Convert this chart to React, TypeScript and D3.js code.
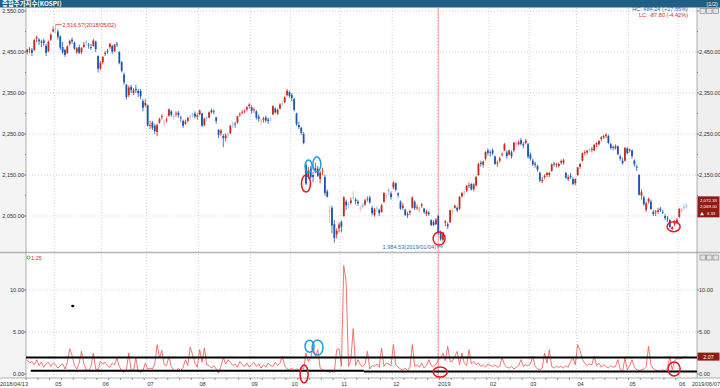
import React from 'react';
import * as d3 from 'd3';

// 일봉 OHLC (2018/04/13 ~ 2019/06/07)
const opens = [
  2450, 2456, 2455, 2455, 2483, 2480, 2475, 2478, 2465, 2452, 2480, 2500,
  2508, 2500, 2488, 2462, 2455, 2448, 2470, 2480, 2472, 2450, 2462, 2450, 2462, 2475, 2468, 2462, 2465, 2475, 2440, 2410,
  2425, 2445, 2450, 2462, 2465, 2452, 2470, 2450, 2425, 2395, 2370, 2345, 2365, 2350, 2360, 2355, 2355, 2330, 2320,
  2320, 2270, 2278, 2270, 2255, 2278, 2292, 2278, 2285, 2295, 2305, 2292, 2298, 2302, 2290, 2282, 2275, 2282, 2292, 2298, 2300, 2292,
  2298, 2300, 2272, 2290, 2290, 2308, 2305, 2290, 2260, 2252, 2245, 2240, 2250, 2252, 2275, 2275, 2278, 2298, 2302, 2305, 2310, 2318,
  2315, 2308, 2305, 2292, 2280, 2285, 2290, 2285, 2288, 2298, 2312, 2300, 2312, 2325, 2328, 2345, 2352,
  2345, 2335, 2300, 2272, 2265, 2250, 2175, 2145, 2165, 2150, 2160, 2165, 2140, 2160, 2145, 2110, 2060, 2070, 2030, 2005, 2020,
  2035, 2050, 2085, 2080, 2082, 2095, 2090, 2085, 2068, 2078, 2078, 2092, 2095, 2070, 2052, 2070, 2065, 2060, 2085, 2100, 2115, 2105,
  2120, 2130, 2105, 2085, 2070, 2065, 2055, 2058, 2070, 2085, 2070, 2062, 2075, 2068, 2055, 2058, 2040, 2035, 2030,
  2050, 2010, 1992, 2034, 2030, 2035, 2060, 2070, 2070, 2068, 2098, 2110, 2112, 2125, 2128, 2115, 2125, 2150, 2180, 2175, 2190, 2210,
  2205, 2210, 2195, 2178, 2185, 2200, 2210, 2205, 2200, 2205, 2210, 2225, 2225, 2235, 2225, 2228, 2225,
  2200, 2185, 2178, 2172, 2155, 2135, 2145, 2150, 2150, 2160, 2178, 2175, 2172, 2180, 2180, 2155, 2140, 2148, 2140, 2130,
  2150, 2170, 2185, 2205, 2205, 2212, 2212, 2210, 2225, 2225, 2238, 2242, 2245, 2245, 2225, 2218, 2215, 2220, 2195, 2185, 2185, 2215,
  2210, 2210, 2185, 2170, 2150, 2100, 2095, 2065, 2085, 2085, 2060, 2060, 2060, 2068, 2060, 2050, 2045, 2040, 2018, 2030, 2035,
  2048, 2062, 2072, 2075,
];
const highs = [
  2458, 2462, 2460, 2482, 2490, 2484, 2480, 2482, 2470, 2478, 2496, 2512,
  2516.57, 2505, 2490, 2475, 2458, 2466, 2480, 2485, 2476, 2462, 2468, 2462, 2475, 2480, 2472, 2470, 2482, 2478, 2442, 2428,
  2440, 2452, 2458, 2472, 2468, 2470, 2475, 2452, 2428, 2400, 2372, 2368, 2370, 2362, 2370, 2360, 2360, 2335, 2335,
  2322, 2282, 2282, 2275, 2275, 2290, 2298, 2285, 2290, 2312, 2308, 2298, 2305, 2306, 2295, 2285, 2285, 2292, 2298, 2302, 2305, 2300,
  2310, 2302, 2290, 2295, 2305, 2312, 2310, 2292, 2262, 2262, 2250, 2252, 2255, 2272, 2280, 2280, 2295, 2303, 2308, 2310, 2318, 2325,
  2320, 2315, 2308, 2298, 2288, 2292, 2295, 2290, 2292, 2320, 2315, 2312, 2325, 2330, 2342, 2360, 2356,
  2350, 2338, 2302, 2280, 2268, 2255, 2178, 2170, 2172, 2158, 2180, 2172, 2160, 2168, 2150, 2115, 2075, 2075, 2040, 2020, 2035,
  2040, 2098, 2090, 2085, 2095, 2110, 2095, 2090, 2075, 2082, 2092, 2098, 2100, 2075, 2070, 2075, 2068, 2080, 2108, 2105, 2118, 2110,
  2135, 2132, 2108, 2088, 2082, 2068, 2060, 2065, 2098, 2088, 2078, 2072, 2082, 2070, 2065, 2062, 2042, 2040, 2045,
  2053, 2015, 2011, 2040, 2035, 2065, 2068, 2078, 2073, 2098, 2108, 2112, 2125, 2132, 2130, 2130, 2148, 2180, 2185, 2185, 2208, 2215,
  2210, 2215, 2198, 2185, 2195, 2205, 2228, 2210, 2212, 2210, 2230, 2232, 2235, 2240, 2230, 2238, 2228,
  2205, 2190, 2182, 2175, 2158, 2145, 2152, 2158, 2158, 2178, 2182, 2180, 2180, 2188, 2190, 2158, 2150, 2155, 2145, 2142,
  2170, 2180, 2205, 2210, 2212, 2215, 2218, 2225, 2230, 2235, 2245, 2248, 2252, 2248, 2228, 2222, 2225, 2222, 2200, 2192, 2218, 2218,
  2215, 2212, 2188, 2175, 2152, 2115, 2100, 2085, 2095, 2090, 2065, 2065, 2070, 2072, 2065, 2055, 2050, 2042, 2025, 2040, 2045,
  2070, 2070, 2080, 2080,
];
const lows = [
  2444, 2447, 2440, 2452, 2474, 2467, 2462, 2465, 2440, 2450, 2477, 2498,
  2495, 2480, 2455, 2445, 2438, 2445, 2465, 2470, 2455, 2445, 2445, 2445, 2460, 2465, 2458, 2455, 2463, 2450, 2400, 2405,
  2420, 2440, 2445, 2458, 2445, 2450, 2462, 2420, 2400, 2370, 2334, 2340, 2350, 2345, 2350, 2340, 2335, 2305, 2315,
  2268, 2262, 2260, 2250, 2245, 2275, 2285, 2270, 2278, 2292, 2292, 2285, 2292, 2290, 2280, 2265, 2272, 2278, 2285, 2290, 2288, 2285,
  2295, 2268, 2268, 2282, 2288, 2300, 2298, 2275, 2240, 2245, 2218, 2232, 2240, 2250, 2265, 2265, 2275, 2292, 2298, 2300, 2305, 2312,
  2300, 2302, 2285, 2280, 2272, 2278, 2278, 2275, 2280, 2296, 2300, 2296, 2310, 2318, 2325, 2342, 2338,
  2330, 2305, 2270, 2262, 2248, 2225, 2125, 2140, 2140, 2132, 2155, 2145, 2130, 2150, 2100, 2095, 2033, 2008, 1985, 1995, 2010,
  2010, 2048, 2065, 2068, 2078, 2090, 2078, 2075, 2060, 2068, 2075, 2085, 2080, 2052, 2048, 2060, 2050, 2058, 2082, 2092, 2100, 2090,
  2115, 2110, 2095, 2065, 2065, 2050, 2045, 2052, 2068, 2065, 2065, 2058, 2070, 2055, 2050, 2050, 2025, 2025, 2028,
  2004, 1990, 1984.53, 2025, 2018, 2033, 2052, 2068, 2060, 2065, 2095, 2100, 2108, 2118, 2112, 2110, 2122, 2148, 2170, 2168, 2185, 2198,
  2195, 2198, 2175, 2170, 2180, 2195, 2208, 2190, 2198, 2190, 2205, 2218, 2222, 2222, 2215, 2225, 2190,
  2185, 2172, 2168, 2158, 2132, 2130, 2140, 2145, 2145, 2158, 2170, 2168, 2168, 2175, 2175, 2140, 2135, 2140, 2125, 2125,
  2148, 2165, 2182, 2198, 2200, 2205, 2205, 2208, 2218, 2222, 2232, 2238, 2240, 2225, 2212, 2210, 2212, 2198, 2185, 2175, 2183, 2200,
  2205, 2190, 2170, 2160, 2100, 2090, 2075, 2060, 2080, 2065, 2050, 2050, 2055, 2060, 2055, 2040, 2035, 2020, 2015, 2025, 2030,
  2045, 2058, 2065, 2068,
];
const closes = [
  2455, 2457, 2448, 2479, 2486, 2476, 2474, 2472, 2448, 2475, 2492, 2505,
  2506, 2487, 2461, 2449, 2443, 2464, 2477, 2476, 2458, 2459, 2448, 2460, 2468, 2471, 2466, 2460, 2478, 2457, 2409, 2423,
  2438, 2448, 2453, 2470, 2451, 2468, 2468, 2423, 2404, 2376, 2340, 2363, 2357, 2357, 2357, 2350, 2342, 2314, 2326,
  2271, 2272, 2265, 2257, 2272, 2286, 2294, 2280, 2285, 2310, 2297, 2293, 2300, 2296, 2289, 2270, 2280, 2289, 2290, 2295, 2293, 2295,
  2307, 2270, 2287, 2288, 2303, 2303, 2303, 2282, 2248, 2258, 2240, 2247, 2248, 2270, 2273, 2273, 2293, 2299, 2304, 2307, 2315, 2322,
  2307, 2310, 2290, 2287, 2282, 2288, 2283, 2282, 2286, 2318, 2303, 2309, 2322, 2324, 2339, 2355, 2343,
  2338, 2309, 2274, 2267, 2253, 2228, 2129, 2161, 2145, 2145, 2167, 2148, 2156, 2161, 2106, 2097, 2063, 2027, 1996, 2014, 2029,
  2024, 2096, 2076, 2077, 2088, 2093, 2086, 2081, 2070, 2072, 2088, 2092, 2083, 2057, 2066, 2069, 2057, 2076, 2106, 2100, 2110, 2096,
  2131, 2114, 2101, 2068, 2075, 2053, 2052, 2062, 2095, 2069, 2071, 2070, 2078, 2060, 2061, 2055, 2028, 2028, 2041,
  2010, 1993, 2010, 2037, 2025, 2064, 2063, 2075, 2064, 2097, 2106, 2107, 2124, 2125, 2115, 2127, 2145, 2177, 2177, 2183, 2206, 2204,
  2203, 2203, 2177, 2180, 2190, 2201, 2225, 2196, 2210, 2196, 2229, 2228, 2230, 2226, 2222, 2234, 2195,
  2190, 2176, 2175, 2163, 2137, 2138, 2148, 2155, 2155, 2176, 2176, 2177, 2177, 2184, 2186, 2144, 2145, 2145, 2128, 2140,
  2168, 2177, 2203, 2206, 2209, 2210, 2213, 2224, 2228, 2233, 2242, 2245, 2248, 2228, 2216, 2216, 2220, 2201, 2190, 2179, 2216, 2203,
  2212, 2196, 2176, 2168, 2102, 2108, 2079, 2081, 2092, 2067, 2055, 2061, 2064, 2064, 2059, 2045, 2044, 2023, 2023, 2035, 2041,
  2067, 2066, 2069, 2072.33,
];

// 하단 지표
const ratio = [
  1.7, 1.3, 1.5, 1.1, 1.7, 1.0, 1.4, 0.8, 1.2, 1.4, 0.9, 1.3, 1.1, 0.7, 1.0, 1.2, 0.6, 1.4, 3.0, 2.2,
  1.0, 0.6, 1.3, 2.7, 1.2, 0.5, 0.4, 0.9, 2.5, 0.6, 0.5, 1.5, 1.2, 1.4, 1.0, 0.8, 1.3, 1.1, 1.9, 0.9,
  0.4, 0.2, 0.5, 2.5, 0.5, 0.4, 1.9, 0.3, 0.2, 0.4, 1.3, 0.6, 0.7, 0.6, 1.2, 3.5, 1.9, 2.8, 1.1, 1.0,
  2.1, 0.9, 0.5, 0.3, 0.7, 0.4, 0.8, 1.7, 1.0, 3.2, 2.3, 1.3, 0.8, 2.9, 1.4, 3.1, 1.1, 1.0, 0.7, 1.0,
  0.6, 0.1, 0.9, 2.0, 1.2, 1.7, 1.4, 1.0, 1.2, 0.8, 1.5, 1.1, 0.9, 1.3, 0.8, 1.1, 1.4, 0.9, 1.2, 0.7,
  1.1, 0.8, 1.3, 1.0, 0.9, 1.4, 1.0, 1.3, 2.1, 1.0, 0.6, 0.5, 0.7, 0.4, 0.6, 0.5, 0.8, 0.6, 2.5, 1.5,
  1.9, 3.3, 2.1, 2.9, 0.7, 0.5, 0.4, 0.3, 0.2, 0.3, 0.2, 2.9, 3.0, 0.9, 12.9, 11.0, 0.9, 1.7, 5.4, 1.0,
  1.7, 1.1, 0.9, 1.2, 2.7, 0.6, 1.0, 0.9, 1.2, 0.8, 3.1, 0.9, 1.3, 1.2, 1.0, 3.5, 1.1, 0.8, 0.6, 0.5,
  0.7, 0.4, 0.8, 3.5, 0.9, 1.1, 0.8, 1.3, 0.7, 1.0, 1.7, 1.0, 0.9, 1.1, 1.7, 1.9, 2.5, 1.6, 3.3, 1.5,
  1.5, 2.1, 2.7, 1.1, 2.5, 1.3, 1.0, 2.9, 1.2, 1.5, 1.1, 1.3, 0.9, 1.1, 0.8, 1.2, 1.0, 0.9, 1.1, 0.8,
  0.9, 2.0, 1.1, 0.8, 0.7, 0.9, 0.6, 0.8, 1.0, 1.7, 0.9, 1.1, 1.0, 1.2, 2.1, 0.9, 0.6, 0.5, 0.7, 2.5,
  1.3, 2.9, 0.9, 0.7, 0.9, 0.8, 0.9, 0.7, 1.0, 0.8, 1.5, 1.9, 1.1, 3.5, 2.8, 1.7, 1.3, 1.0, 1.2, 1.1,
  2.1, 1.0, 1.3, 0.8, 1.1, 0.9, 0.7, 1.0, 0.8, 0.9, 1.7, 0.6, 0.3, 1.9, 0.5, 1.0, 1.7, 0.8, 0.5, 0.4,
  0.5, 0.6, 0.9, 3.3, 1.1, 0.6, 0.5, 0.4, 0.3, 0.5, 0.4, 0.7, 2.1, 0.5, 1.5, 1.9, 1.8, 1.9, 2.0, 2.07,
];

// 월 구분 (캔들 인덱스)
const monthStarts = [12, 32, 51, 73, 95, 112, 133, 155, 174, 196, 213, 233, 255, 276];
const monthLabels = ['05', '06', '07', '08', '09', '10', '11', '12', '2019', '02', '03', '04', '05', '06'];
const firstDate = '2018/04/13';
const lastDate = '2019/06/07';
const yearStart = 174;

const priceTicks = [2550, 2450, 2350, 2250, 2150, 2050];
const priceMinor = [2500, 2400, 2300, 2200, 2100];
const lowerTicks = [10, 5, 0];

// 하단 수평선 (시작 인덱스, 값)
const upperBand = [[0, 1.95]];
const lowerBand = [[2, 0.38], [143, 0.3]];

// 표시 원 (위치, 값, 반지름)
const priceMarks = [
  { p: 118.5, v: 2129, rx: 4.5, ry: 8.5, c: '#e8141e' },
  { p: 119.6, v: 2171, rx: 3.5, ry: 6.5, c: '#1c9ee0' },
  { p: 123.1, v: 2176, rx: 4, ry: 7.5, c: '#1c9ee0' },
  { p: 174.85, v: 1995, rx: 6, ry: 6.5, c: '#e8141e' },
  { p: 274.1, v: 2024, rx: 6.5, ry: 5, c: '#e8141e' },
];
const lowerMarks = [
  { p: 120.0, v: 3.3, rx: 4.5, ry: 6, c: '#1c9ee0' },
  { p: 123.4, v: 3.15, rx: 5.5, ry: 7.5, c: '#1c9ee0' },
  { p: 117.7, v: 0, rx: 4, ry: 9, c: '#e8141e' },
  { p: 175.3, v: 0.24, rx: 7, ry: 5, c: '#e8141e' },
  { p: 274.3, v: 0.6, rx: 6, ry: 7, c: '#e8141e' },
];
const dotMark = { p: 19.8, v: 8.1 };

const title = '종합주가지수(KOSPI)';
const pageLabel = '(1/2)';
const hcLabel = 'HC: 484.24 (+17.65%)';
const lcLabel = 'LC: -87.80 (-4.42%)';
const lowerLabel = '1.25';

const FONT = '"Liberation Sans", Arial, sans-serif';
const RED = '#c8281e', PINK = '#f0a8a0', BLUE = '#1a56b4', SKY = '#98bce8';

const App = () => {
  const x = d3.scaleLinear().domain([0, 284]).range([26, 697]);
  const yP = d3.scaleLinear().domain([2050, 2550]).range([216, 11]);
  const yL = d3.scaleLinear().domain([0, 10]).range([374, 290]);
  const fmt = d3.format(',.2f');

  const topY0 = 8, topY1 = 252, botY0 = 253, botY1 = 378;

  const line = d3.line<number>().x((d, i) => x(i + 0.5)).y(d => yL(d));

  const hiIdx = d3.maxIndex(highs);
  const loIdx = d3.minIndex(lows);
  const n = closes.length;
  const last = closes[n - 1];
  const chg = last - closes[n - 2];
  const lastRatio = ratio[ratio.length - 1];
  const tagY = yP(last);
  const lowerTagY = yL(lastRatio);

  const candles = closes.map((c, i) => {
    const o = opens[i];
    const prev = i > 0 ? closes[i - 1] : o;
    const up = c >= o;
    const col = up ? (c >= prev ? RED : PINK) : (c <= prev ? BLUE : SKY);
    const cx = x(i + 0.5);
    const top = yP(Math.max(o, c));
    const bot = yP(Math.min(o, c));
    return (
      <g key={i}>
        <line x1={cx} x2={cx} y1={yP(Math.max(highs[i], o, c))} y2={yP(Math.min(lows[i], o, c))} stroke={col} strokeWidth={0.8} />
        <rect x={cx - 0.9} y={top} width={1.8} height={Math.max(bot - top, 0.8)} fill={col} />
      </g>
    );
  });

  const weekTicks = d3.range(0, n, 5);

  return (
    <svg width={720} height={388} style={{ position: 'fixed', left: 0, top: 0, background: '#fff' }} fontFamily={FONT}>
      {/* 축 영역 */}
      <rect x={0} y={0} width={26} height={388} fill="#f4f4f4" />
      <rect x={697} y={0} width={23} height={388} fill="#efefef" />
      <rect x={26} y={topY0} width={671} height={topY1 - topY0} fill="#fff" />
      <rect x={26} y={botY0} width={671} height={botY1 - botY0} fill="#fff" />
      <rect x={0} y={botY1} width={720} height={388 - botY1} fill="#fff" />

      {/* 그리드 */}
      <g stroke="#c9c9c9" strokeWidth={0.8} strokeDasharray="1,2">
        {priceTicks.map(t => (
          <line key={t} x1={26} x2={697} y1={yP(t)} y2={yP(t)} />
        ))}
        {lowerTicks.map(t => (
          <line key={t} x1={26} x2={697} y1={yL(t)} y2={yL(t)} />
        ))}
        {monthStarts.map(m => (
          <line key={m} x1={x(m)} x2={x(m)} y1={topY0} y2={botY1} />
        ))}
      </g>

      {/* 패널 테두리 */}
      <line x1={0} x2={720} y1={topY1 + 0.5} y2={topY1 + 0.5} stroke="#b4b4b4" strokeWidth={1.5} />
      <line x1={26} x2={26} y1={topY0} y2={botY1} stroke="#9a9a9a" strokeWidth={0.8} />
      <line x1={697} x2={697} y1={topY0} y2={botY1} stroke="#9a9a9a" strokeWidth={0.8} />
      <line x1={0} x2={720} y1={botY1} y2={botY1} stroke="#9a9a9a" strokeWidth={0.8} />

      {/* 연도 구분선 */}
      <line x1={x(yearStart + 0.5)} x2={x(yearStart + 0.5)} y1={topY0} y2={botY1} stroke="#f49a94" strokeWidth={1} />

      {/* 캔들 */}
      {candles}

      {/* 최고/최저 표시 */}
      <line x1={x(hiIdx + 0.5)} x2={x(hiIdx + 0.5) + 6} y1={yP(highs[hiIdx])} y2={yP(highs[hiIdx])} stroke="#d03020" strokeWidth={0.8} />
      <text x={x(hiIdx + 0.5) + 7} y={yP(highs[hiIdx]) + 2} fontSize={5.6} fill="#d03020">
        {`${fmt(highs[hiIdx])}(2018/05/02)`}
      </text>
      <line x1={x(loIdx + 0.5) - 6} x2={x(loIdx + 0.5)} y1={yP(lows[loIdx]) + 4} y2={yP(lows[loIdx]) + 4} stroke="#3070c0" strokeWidth={0.8} />
      <text x={x(loIdx + 0.5) - 7} y={yP(lows[loIdx]) + 6} fontSize={5.6} fill="#3070c0" textAnchor="end">
        {`${fmt(lows[loIdx])}(2019/01/04)`}
      </text>

      <text x={688} y={11} fontSize={5.6} fill="#2c64c0" textAnchor="end">{hcLabel}</text>
      <text x={688} y={17} fontSize={5.6} fill="#d42a1e" textAnchor="end">{lcLabel}</text>

      {/* 하단 지표 */}
      <path d={line(ratio) ?? ''} fill="none" stroke="#f05050" strokeWidth={0.8} />
      {upperBand.map(([s, v], k) => (
        <line key={k} x1={x(s)} x2={697} y1={yL(v)} y2={yL(v)} stroke="#000" strokeWidth={2} />
      ))}
      {lowerBand.map(([s, v], k) => (
        <line key={k} x1={x(s)} x2={k < lowerBand.length - 1 ? x(lowerBand[k + 1][0]) : 697} y1={yL(v)} y2={yL(v)} stroke="#000" strokeWidth={2} />
      ))}
      <ellipse cx={x(dotMark.p)} cy={yL(dotMark.v)} rx={1.6} ry={1.2} fill="#000" />

      {/* 표시 원 */}
      {priceMarks.map((m, k) => (
        <ellipse key={k} cx={x(m.p)} cy={yP(m.v)} rx={m.rx} ry={m.ry} fill="none" stroke={m.c} strokeWidth={1.5} />
      ))}
      {lowerMarks.map((m, k) => (
        <ellipse key={k} cx={x(m.p)} cy={yL(m.v)} rx={m.rx} ry={m.ry} fill="none" stroke={m.c} strokeWidth={1.5} />
      ))}

      {/* 축 */}
      <g fontSize={5.6} fill="#333">
        {priceTicks.map(t => (
          <g key={t}>
            <text x={24} y={yP(t) + 2} textAnchor="end">{fmt(t)}</text>
            <line x1={24} x2={26} y1={yP(t)} y2={yP(t)} stroke="#555" strokeWidth={0.7} />
            {t !== 2550 && Math.abs(yP(t) - tagY) > 14 && <text x={699} y={yP(t) + 2}>{fmt(t)}</text>}
            <line x1={697} x2={699} y1={yP(t)} y2={yP(t)} stroke="#555" strokeWidth={0.7} />
          </g>
        ))}
        {priceMinor.map(t => (
          <g key={t}>
            <line x1={25} x2={26} y1={yP(t)} y2={yP(t)} stroke="#555" strokeWidth={0.7} />
            <line x1={697} x2={698} y1={yP(t)} y2={yP(t)} stroke="#555" strokeWidth={0.7} />
          </g>
        ))}
        {lowerTicks.map(t => (
          <g key={t}>
            <text x={24} y={yL(t) + 2} textAnchor="end">{fmt(t)}</text>
            <line x1={24} x2={26} y1={yL(t)} y2={yL(t)} stroke="#555" strokeWidth={0.7} />
            {Math.abs(yL(t) - lowerTagY) > 9 && <text x={699} y={yL(t) + 2}>{fmt(t)}</text>}
            <line x1={697} x2={699} y1={yL(t)} y2={yL(t)} stroke="#555" strokeWidth={0.7} />
          </g>
        ))}
      </g>

      {/* 현재가 태그 */}
      <g>
        <rect x={697.5} y={tagY - 10.5} width={22} height={21} fill="#8e1c14" />
        <text x={708.5} y={tagY - 5} fontSize={4.4} fill="#fff" textAnchor="middle">{fmt(last)}</text>
        <text x={708.5} y={tagY + 1.5} fontSize={4.4} fill="#fff" textAnchor="middle">{fmt(closes[n - 2])}</text>
        <path d={`M700,${tagY + 8.5} l2,-3.5 l2,3.5 z`} fill="#fff" />
        <text x={711} y={tagY + 8} fontSize={4.4} fill="#fff" textAnchor="middle">{d3.format('.2f')(chg)}</text>
      </g>
      <rect x={697.5} y={lowerTagY - 4} width={22} height={8} fill="#8e1c14" />
      <text x={708.5} y={lowerTagY + 2} fontSize={5.4} fill="#fff" textAnchor="middle">{d3.format('.2f')(lastRatio)}</text>

      {/* 하단 라벨 */}
      <circle cx={28.5} cy={257.5} r={1.5} fill="none" stroke="#3a9a3a" strokeWidth={0.8} />
      <text x={31} y={260} fontSize={5.6} fill="#e03030">{lowerLabel}</text>

      {/* X축 */}
      {weekTicks.map(i => (
        <line key={i} x1={x(i)} x2={x(i)} y1={botY1} y2={botY1 + 2} stroke="#555" strokeWidth={0.6} />
      ))}
      <g fontSize={5.6} fill="#333">
        <text x={0} y={386}>{firstDate}</text>
        {monthStarts.map((m, k) => (
          <text key={m} x={x(m) + 1} y={386}>{monthLabels[k]}</text>
        ))}
        <text x={720} y={386} textAnchor="end">{lastDate}</text>
      </g>

      {/* 헤더 */}
      <rect x={0} y={0} width={720} height={7.5} fill="#1f5f86" />
      <text x={2} y={6.3} fontSize={6.4} fontWeight="bold" fill="#fff" fontFamily='"Noto Sans CJK KR", sans-serif'>{title}</text>
      <text x={718} y={6} fontSize={5.6} fill="#fff" textAnchor="end">{pageLabel}</text>
      {[0, 1, 2].map(k => (
        <rect key={k} x={700 + k * 6.5} y={8.5} width={5.5} height={5} fill="#e4e4e4" stroke="#666" strokeWidth={0.5} />
      ))}
      {[0, 1, 2].map(k => (
        <rect key={k} x={700 + k * 6.5} y={255} width={5.5} height={5} fill="#e4e4e4" stroke="#666" strokeWidth={0.5} />
      ))}
    </svg>
  );
};

export default App;
